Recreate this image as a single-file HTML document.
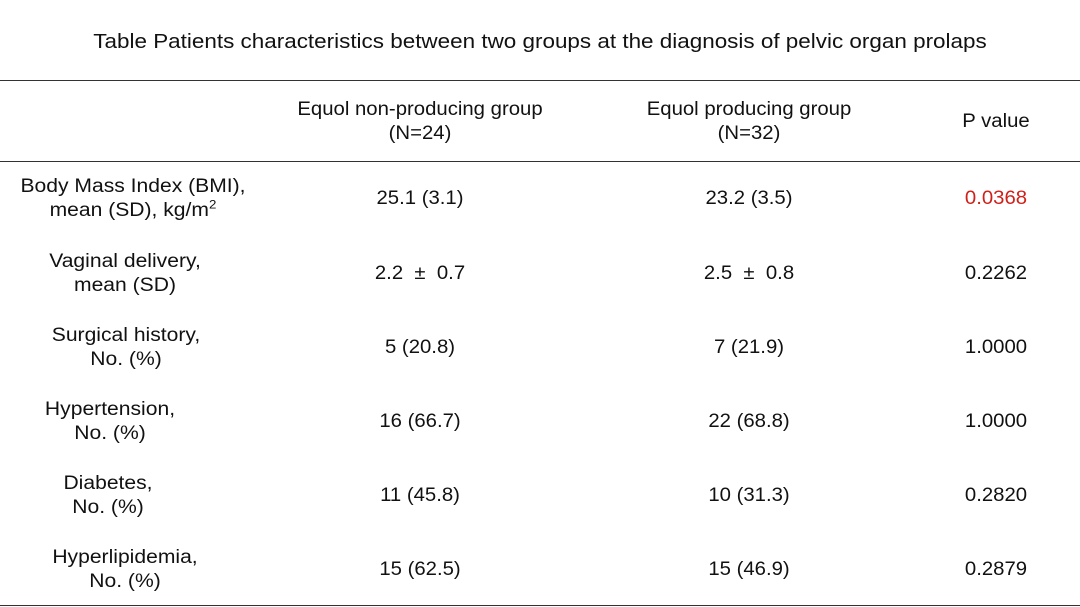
<!DOCTYPE html>
<html><head><style>
body{margin:0;width:1080px;height:607px;background:#fff;position:relative;font-family:"Liberation Sans",sans-serif;color:#111;overflow:hidden}
.t{position:absolute;text-align:center;font-size:19px;line-height:24px;transform:translate(-50%,-50%) scaleX(1.07);white-space:nowrap}
.l{transform:translate(-50%,-50%) scaleX(1.11)}
.h{position:absolute;left:0;width:1080px;height:1px;background:#333}
sup{font-size:12px;line-height:0}
</style></head><body>
<div class="t" style="left:540px;top:42px;font-size:20.5px;transform:translate(-50%,-50%) scaleX(1.095)">Table Patients characteristics between two groups at the diagnosis of pelvic organ prolaps</div>
<div class="h" style="top:80px"></div>
<div class="h" style="top:161px"></div>
<div class="h" style="top:605px"></div>
<div class="t" style="left:420px;top:122px">Equol non-producing group<br>(N=24)</div>
<div class="t" style="left:749px;top:122px">Equol producing group<br>(N=32)</div>
<div class="t" style="left:996px;top:122px">P value</div>

<div class="t l" style="left:133px;top:199px">Body Mass Index (BMI),<br>mean (SD), kg/m<sup>2</sup></div>
<div class="t" style="left:420px;top:199px">25.1 (3.1)</div>
<div class="t" style="left:749px;top:199px">23.2 (3.5)</div>
<div class="t" style="left:996px;top:199px;color:#d0201a">0.0368</div>

<div class="t l" style="left:125px;top:274px">Vaginal delivery,<br>mean (SD)</div>
<div class="t" style="left:420px;top:274px">2.2 &nbsp;± &nbsp;0.7</div>
<div class="t" style="left:749px;top:274px">2.5 &nbsp;± &nbsp;0.8</div>
<div class="t" style="left:996px;top:274px">0.2262</div>

<div class="t l" style="left:126px;top:348px">Surgical history,<br>No. (%)</div>
<div class="t" style="left:420px;top:348px">5 (20.8)</div>
<div class="t" style="left:749px;top:348px">7 (21.9)</div>
<div class="t" style="left:996px;top:348px">1.0000</div>

<div class="t l" style="left:110px;top:422px">Hypertension,<br>No. (%)</div>
<div class="t" style="left:420px;top:422px">16 (66.7)</div>
<div class="t" style="left:749px;top:422px">22 (68.8)</div>
<div class="t" style="left:996px;top:422px">1.0000</div>

<div class="t l" style="left:108px;top:496px">Diabetes,<br>No. (%)</div>
<div class="t" style="left:420px;top:496px">11 (45.8)</div>
<div class="t" style="left:749px;top:496px">10 (31.3)</div>
<div class="t" style="left:996px;top:496px">0.2820</div>

<div class="t l" style="left:125px;top:570px">Hyperlipidemia,<br>No. (%)</div>
<div class="t" style="left:420px;top:570px">15 (62.5)</div>
<div class="t" style="left:749px;top:570px">15 (46.9)</div>
<div class="t" style="left:996px;top:570px">0.2879</div>
</body></html>
